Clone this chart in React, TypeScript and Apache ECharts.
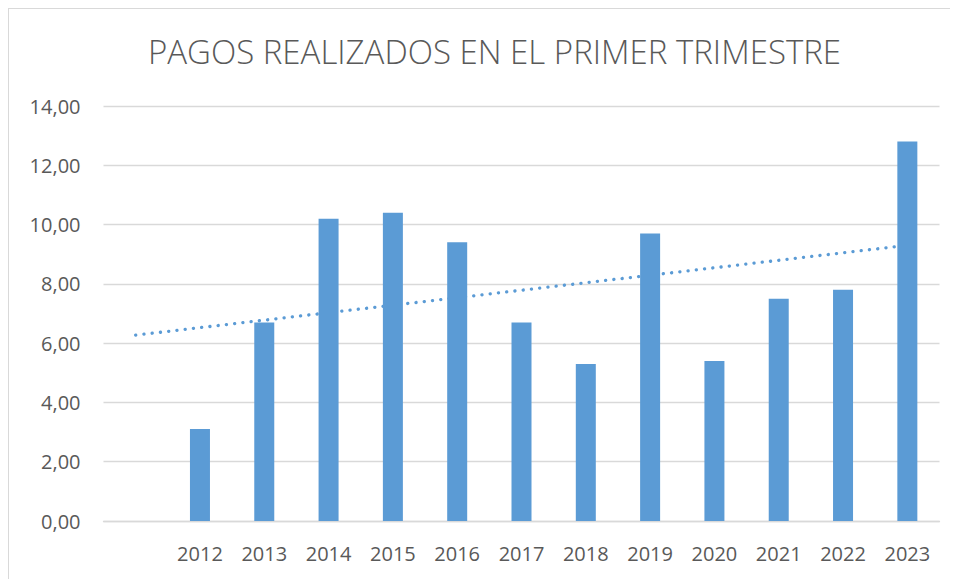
import React, { useEffect, useRef } from "react";
import * as echarts from "echarts";

const titleText = "PAGOS REALIZADOS EN EL PRIMER TRIMESTRE";
const categories = ["", "2012", "2013", "2014", "2015", "2016", "2017", "2018", "2019", "2020", "2021", "2022", "2023"];
const pagos: (number | null)[] = [null, 3.1, 6.7, 10.2, 10.4, 9.4, 6.7, 5.3, 9.7, 5.4, 7.5, 7.8, 12.8];
const trendStart = 6.27;
const trendEnd = 9.3;
const yMin = 0;
const yMax = 14;
const yStep = 2;

export default function App() {
  const ref = useRef<HTMLDivElement>(null);
  useEffect(() => {
    if (!ref.current) return;
    const chart = echarts.init(ref.current, null, { renderer: "svg" });
    const trend: (number | null)[] = categories.map(() => null);
    trend[0] = trendStart;
    trend[trend.length - 1] = trendEnd;
    const font = "'Open Sans', 'Noto Sans', sans-serif";
    chart.setOption({
      animation: false,
      title: {
        text: titleText,
        left: 480.5,
        top: 21,
        textAlign: "center",
        textStyle: { fontSize: 33, fontWeight: 300, color: "#595959", fontFamily: font },
      },
      grid: { left: 94.5, top: 97, width: 836, height: 415, containLabel: false, outerBoundsMode: "none" },
      xAxis: {
        type: "category",
        data: categories,
        axisTick: { show: false },
        axisLine: { lineStyle: { color: "#d9d9d9", width: 1.3 } },
        axisLabel: { interval: 0, fontSize: 20, color: "#595959", margin: 22, fontFamily: font },
      },
      yAxis: {
        type: "value",
        min: yMin,
        max: yMax,
        interval: yStep,
        axisLine: { show: false },
        axisTick: { show: false },
        axisLabel: {
          fontSize: 20,
          color: "#595959",
          margin: 23,
          fontFamily: font,
          formatter: (v: number) => v.toFixed(2).replace(".", ","),
        },
        splitLine: { lineStyle: { color: "#d9d9d9", width: 1.3 } },
      },
      series: [
        {
          name: "Lineal",
          type: "line",
          data: trend,
          connectNulls: true,
          symbol: "none",
          z: 1,
          lineStyle: { color: "#5B9BD5", width: 3.3, type: [0.1, 8.2], cap: "round" },
        },
        {
          name: "Pagos",
          type: "bar",
          data: pagos,
          barWidth: 20,
          z: 2,
          itemStyle: { color: "#5B9BD5" },
        },
      ],
    });
    return () => chart.dispose();
  }, []);
  return (
    <div
      style={{
        width: 950,
        height: 571,
        boxSizing: "border-box",
        borderTop: "1px solid #d9d9d9",
        borderLeft: "1px solid #d9d9d9",
        background: "#fff",
      }}
    >
      <div ref={ref} style={{ width: 949, height: 570 }} />
    </div>
  );
}
